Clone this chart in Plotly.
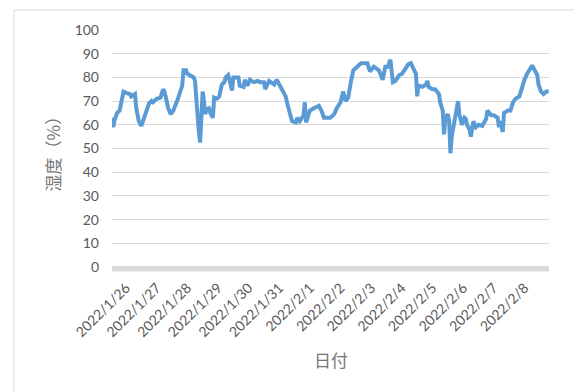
import plotly.graph_objects as go

# hours elapsed since 2022/1/26 00:00
hours = [1, 2, 3, 5, 7, 8, 9, 10, 12, 15, 16, 18, 19, 20, 22, 24, 25, 27, 29, 30,
         32, 33, 36, 39, 41, 42, 43, 45, 47, 49, 52, 54, 56, 57, 59, 60, 62, 65, 66, 67,
         69, 70, 71, 72, 73, 74, 75, 77, 78, 80, 81, 83, 85, 87, 89, 90, 92, 94, 95, 96,
         98, 100, 101, 104, 105, 107, 109, 112, 115, 117, 120, 121, 124, 125, 128, 130, 131, 134, 137, 138,
         140, 142, 145, 146, 148, 151, 152, 153, 155, 156, 159, 163, 165, 167, 169, 172, 175, 177, 180, 182,
         184, 186, 188, 190, 193, 196, 198, 201, 203, 206, 210, 213, 215, 217, 219, 220, 221, 223, 226, 228,
         231, 233, 235, 237, 239, 240, 241, 244, 247, 248, 249, 252, 254, 257, 258, 260, 261, 262, 264, 265,
         266, 267, 269, 271, 272, 273, 275, 277, 278, 279, 281, 282, 284, 286, 288, 291, 294, 295, 298, 300,
         303, 304, 305, 307, 308, 311, 313, 315, 317, 320, 322, 324, 326, 328, 330, 332, 334, 335, 337, 339,
         341, 343]

humidity = [63, 59, 62, 65, 66, 69.5, 73, 74, 73.5, 73, 72, 73, 73, 67, 61.5, 59.5, 61, 64, 66.5, 69,
            70, 69.5, 71, 71.5, 75, 74, 72, 67, 64.5, 66, 70, 74, 76.5, 83, 83, 81.5, 81, 80, 78.5, 69,
            57, 52.5, 61.5, 74, 70, 64.5, 66.5, 67, 65, 63, 71.5, 71, 72, 77, 78, 80, 81, 76, 74.5, 80,
            80, 80, 76.5, 76, 79, 76.5, 79, 78, 78.5, 78, 78, 75, 78.5, 78, 77, 79, 78, 75, 72, 69.5,
            65, 61.5, 61, 63, 61.5, 64, 69.5, 61, 64.5, 66, 67, 68, 66, 63, 63, 63, 64.5, 67, 69.5, 74,
            70, 71.5, 78, 83, 84.5, 86, 86, 86, 82.5, 84.5, 83, 79, 84.5, 84.5, 87.5, 83, 78, 78.5, 81, 81.5,
            83.5, 85.5, 86, 83.5, 81.5, 72, 76.5, 76, 77, 78.5, 76, 75, 75, 73, 69.5, 66, 56, 63, 64.5, 61.5,
            48, 55, 61.5, 67, 70, 64.5, 60, 63, 62.5, 60, 58, 55, 61.5, 59, 60, 59.5, 62.5, 66, 64, 64,
            63, 59, 61.5, 57, 65, 66, 66, 69.5, 71, 72, 76, 79, 81.5, 83.5, 85, 83, 81, 77, 74, 73,
            74, 74]

tick_hours = [12 + 24 * k for k in range(14)]
tick_labels = ["2022/1/26", "2022/1/27", "2022/1/28", "2022/1/29", "2022/1/30", "2022/1/31",
               "2022/2/1", "2022/2/2", "2022/2/3", "2022/2/4", "2022/2/5", "2022/2/6",
               "2022/2/7", "2022/2/8"]
y_ticks = list(range(0, 101, 10))

GRAY_TXT = "#595959"
GRID = "#D9D9D9"
W, H = 574, 392
L, R, T, B = 112, 25, 30, 125
pw, ph = W - L - R, H - T - B

fig = go.Figure()
fig.add_trace(go.Scatter(x=hours, y=humidity, mode="lines",
                         line=dict(color="#5B9BD5", width=4, shape="linear"),
                         hoverinfo="skip", showlegend=False))

fig.update_layout(
    width=W, height=H,
    margin=dict(l=L, r=R, t=T, b=B, pad=0),
    paper_bgcolor="white", plot_bgcolor="white",
    font=dict(family="Lato, 'Noto Sans CJK JP', sans-serif", color=GRAY_TXT, size=13),
    xaxis=dict(range=[hours[0], 343.2], tickmode="array", tickvals=tick_hours,
               ticktext=tick_labels, tickangle=-45, showgrid=False, zeroline=False,
               showline=False, ticks="", ticklabelstandoff=9,
               tickfont=dict(size=14, color=GRAY_TXT)),
    yaxis=dict(range=[0, 100], tickmode="array", tickvals=y_ticks, showgrid=True,
               gridcolor=GRID, gridwidth=1, zeroline=False, showline=False, ticks="",
               ticklabelstandoff=12, tickfont=dict(size=14, color=GRAY_TXT)),
    shapes=[
        dict(type="line", xref="paper", yref="paper", x0=0, x1=1,
             y0=-1.7 / ph, y1=-1.7 / ph, line=dict(color=GRID, width=5.5), layer="below"),
        dict(type="rect", xref="paper", yref="paper",
             x0=(14 - L) / pw, x1=1.3, y0=-0.8, y1=(H - B - 10) / ph,
             line=dict(color=GRID, width=1), fillcolor="rgba(0,0,0,0)", layer="below"),
    ],
    annotations=[
        dict(text="湿度（%）", xref="paper", yref="paper",
             x=(51.5 - L) / pw, y=(H - B - 150) / ph, textangle=-90,
             showarrow=False, xanchor="center", yanchor="middle",
             font=dict(family="'Noto Sans CJK JP', sans-serif", size=17, color="#757575")),
        dict(text="日付", xref="paper", yref="paper",
             x=0.5, y=(H - B - 360) / ph, showarrow=False,
             xanchor="center", yanchor="middle",
             font=dict(family="'Noto Sans CJK JP', sans-serif", size=17, color="#757575")),
    ],
)

fig.write_html("out.html")
